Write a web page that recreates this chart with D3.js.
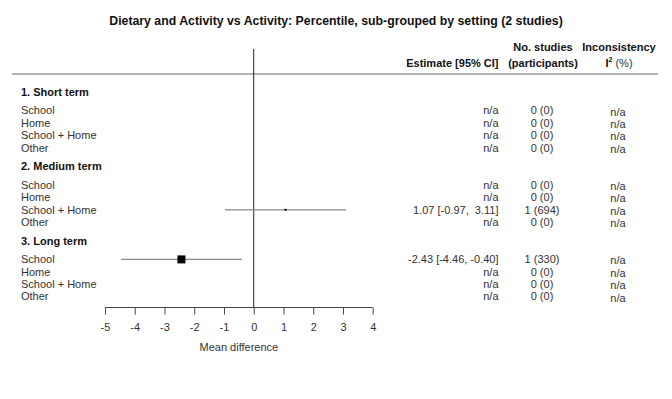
<!DOCTYPE html>
<html lang="en">
<head>
  <meta charset="UTF-8" />
  <title>Dietary and Activity vs Activity: Percentile</title>
  <script src="https://d3js.org/d3.v7.min.js"></script>
  <style>
    body {
      margin: 0;
      background: white;
      font-family: Arial, "Liberation Sans", sans-serif;
    }
    svg text { font-family: Arial, "Liberation Sans", sans-serif; }
    .cell { font-size: 11px; fill: #333; }
    .head { font-size: 11px; font-weight: bold; fill: #111; }
    .ci { stroke: #8a8a8a; stroke-width: 1.2; }
  </style>
</head>
<body>
  <svg width="672" height="399"></svg>
  <script>
    const svg = d3.select("svg");

    // Forest plot data, one entry per setting within each follow-up group
    const groups = ["1. Short term", "2. Medium term", "3. Long term"];
    const settings = ["School", "Home", "School + Home", "Other"];
    // mean difference and 95% CI (null = no studies)
    const est = [
      [null, null, null, null],
      [null, null, 1.07, null],
      [-2.43, null, null, null]
    ];
    const lower = [
      [null, null, null, null],
      [null, null, -0.97, null],
      [-4.46, null, null, null]
    ];
    const upper = [
      [null, null, null, null],
      [null, null, 3.11, null],
      [-0.40, null, null, null]
    ];
    const nStudies = [
      [0, 0, 0, 0],
      [0, 0, 1, 0],
      [1, 0, 0, 0]
    ];
    const nPart = [
      [0, 0, 0, 0],
      [0, 0, 694, 0],
      [330, 0, 0, 0]
    ];
    // relative weight of the pooled box
    const weight = [
      [0, 0, 0, 0],
      [0, 0, 0.06, 0],
      [1, 0, 0, 0]
    ];
    const xTicks = [-5, -4, -3, -2, -1, 0, 1, 2, 3, 4];

    const x = d3.scaleLinear().domain([-5, 4]).range([105, 372.7]);
    // row slot -> vertical centre
    const y = d3.scaleLinear().domain([0, 1]).range([92, 104.4]);
    const box = d3.scaleSqrt().domain([0, 1]).range([0, 8]);

    const rows = [];
    groups.forEach((g, gi) => {
      rows.push({ type: "group", label: g, slot: gi * 6 });
      settings.forEach((s, si) => {
        rows.push({
          type: "item", label: s, slot: gi * 6 + 1.5 + si,
          est: est[gi][si], lo: lower[gi][si], hi: upper[gi][si],
          k: nStudies[gi][si], n: nPart[gi][si], w: weight[gi][si]
        });
      });
    });

    // title
    svg.append("text")
      .attr("x", 336).attr("y", 25)
      .attr("text-anchor", "middle")
      .style("font-size", "12.3px").style("font-weight", "bold").style("fill", "#111")
      .text("Dietary and Activity vs Activity: Percentile, sub-grouped by setting (2 studies)");

    // column headers
    svg.append("text").attr("class", "head").attr("x", 498.5).attr("y", 67)
      .attr("text-anchor", "end").text("Estimate [95% CI]");
    svg.append("text").attr("class", "head").attr("x", 543).attr("y", 51)
      .attr("text-anchor", "middle").text("No. studies");
    svg.append("text").attr("class", "head").attr("x", 543).attr("y", 67)
      .attr("text-anchor", "middle").text("(participants)");
    svg.append("text").attr("class", "head").attr("x", 619).attr("y", 51)
      .attr("text-anchor", "middle").text("Inconsistency");
    const i2 = svg.append("text").attr("class", "head").attr("x", 619).attr("y", 67)
      .attr("text-anchor", "middle");
    i2.append("tspan").text("I");
    i2.append("tspan").attr("dy", -5).style("font-size", "7px").text("2");
    i2.append("tspan").attr("dy", 5).style("font-weight", "normal").style("fill", "#333").text(" (%)");

    svg.append("line")
      .attr("x1", 12).attr("x2", 658).attr("y1", 74).attr("y2", 74)
      .attr("stroke", "#666").attr("stroke-width", 1.2);

    // zero line
    svg.append("line")
      .attr("x1", x(0)).attr("x2", x(0)).attr("y1", 49).attr("y2", 307.5)
      .attr("stroke", "#222").attr("stroke-width", 1);

    // row labels
    svg.selectAll("text.rowlab")
      .data(rows)
      .enter()
      .append("text")
      .attr("class", d => d.type === "group" ? "rowlab head" : "rowlab cell")
      .attr("x", 21)
      .attr("y", d => y(d.slot))
      .attr("dy", "0.35em")
      .text(d => d.label);

    const items = rows.filter(d => d.type === "item");
    // plain hyphen for negatives, padded with a space when positive
    const fmt = v => v.toFixed(2);
    const fmtCI = v => (v < 0 ? " " : "\u00a0\u00a0") + fmt(v);

    svg.selectAll("text.estlab")
      .data(items)
      .enter()
      .append("text")
      .attr("class", "estlab cell")
      .attr("x", 498.5)
      .attr("y", d => y(d.slot))
      .attr("dy", "0.35em")
      .attr("text-anchor", "end")
      .text(d => d.est == null ? "n/a" : fmt(d.est) + " [" + fmt(d.lo) + "," + fmtCI(d.hi) + "]");

    svg.selectAll("text.nlab")
      .data(items)
      .enter()
      .append("text")
      .attr("class", "nlab cell")
      .attr("x", 542)
      .attr("y", d => y(d.slot))
      .attr("dy", "0.35em")
      .attr("text-anchor", "middle")
      .text(d => d.k + " (" + d.n + ")");

    svg.selectAll("text.i2lab")
      .data(items)
      .enter()
      .append("text")
      .attr("class", "i2lab cell")
      .attr("x", 618)
      .attr("y", d => y(d.slot) + 1.2)
      .attr("dy", "0.35em")
      .attr("text-anchor", "middle")
      .text("n/a");

    // confidence intervals and boxes
    const withEst = items.filter(d => d.est != null);
    svg.selectAll("line.ci")
      .data(withEst)
      .enter()
      .append("line")
      .attr("class", "ci")
      .attr("x1", d => x(d.lo)).attr("x2", d => x(d.hi))
      .attr("y1", d => y(d.slot)).attr("y2", d => y(d.slot));

    svg.selectAll("rect.box")
      .data(withEst)
      .enter()
      .append("rect")
      .attr("class", "box")
      .attr("x", d => x(d.est) - Math.max(2, box(d.w)) / 2)
      .attr("y", d => y(d.slot) - Math.max(2, box(d.w)) / 2)
      .attr("width", d => Math.max(2, box(d.w)))
      .attr("height", d => Math.max(2, box(d.w)))
      .attr("fill", "#000");

    // x axis
    const axisG = svg.append("g")
      .attr("transform", "translate(0,307.5)")
      .call(d3.axisBottom(x).tickValues(xTicks).tickSize(7).tickPadding(8.5).tickFormat(d => String(d)));
    axisG.select(".domain").attr("stroke", "#444").attr("d", "M" + x(-5) + ",0H" + x(4));
    axisG.selectAll(".tick line").attr("stroke", "#444");
    axisG.selectAll(".tick text").style("font-size", "11px").style("fill", "#333")
      .style("font-family", "Arial, 'Liberation Sans', sans-serif");

    svg.append("text")
      .attr("class", "cell")
      .attr("x", (x(-5) + x(4)) / 2)
      .attr("y", 351)
      .attr("text-anchor", "middle")
      .text("Mean difference");
  </script>
</body>
</html>
